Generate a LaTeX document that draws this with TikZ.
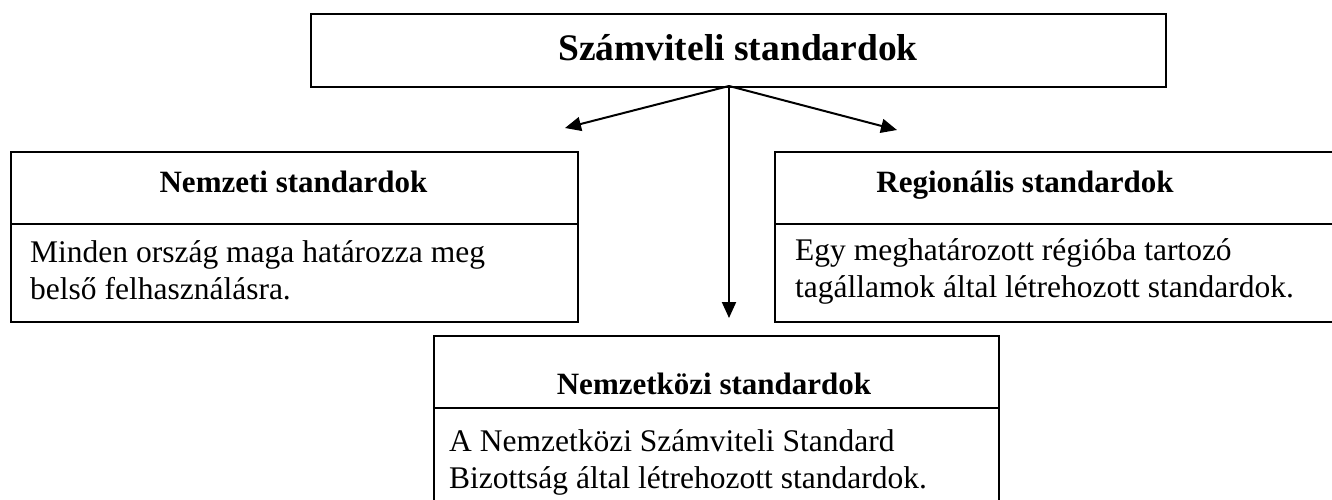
\documentclass[tikz,border=0pt]{standalone}
\usepackage{fontspec}
\setmainfont{Liberation Serif}
\usetikzlibrary{arrows.meta}
\tikzset{
  box/.style={draw=black, line width=2pt, rectangle, inner sep=0pt, anchor=north west},
  divider/.style={draw=black, line width=2pt},
  conn/.style={draw=black, line width=2pt, -{Triangle[length=16pt, width=14pt]}},
  titletext/.style={font=\bfseries\fontsize{37.5}{44}\selectfont, inner sep=0pt, anchor=base},
  headtext/.style={font=\bfseries\fontsize{31}{37}\selectfont, inner sep=0pt, anchor=base},
  bodytext/.style={font=\fontsize{31.5}{37}\selectfont, inner sep=0pt, anchor=base west, align=left},
}
\begin{document}
\begin{tikzpicture}[x=1pt, y=-1pt]
\useasboundingbox (0,0) rectangle (1332,499);
\clip (0,0) rectangle (1332,499);
% top box
\node[box, minimum width=855pt, minimum height=73pt] (top) at (310,13) {};
\node[titletext] (toptitle) at (738,60) {Számviteli standardok};
% left box
\node[box, minimum width=567pt, minimum height=170pt] (left) at (10,151) {};
\draw[divider] (10,224) -- (577,224);
\node[headtext] (lefthead) at (293.5,192) {Nemzeti standardok};
\node[bodytext] (leftbody) at (30,299) {Minden ország maga határozza meg\\belső felhasználásra.};
% right box
\node[box, minimum width=580pt, minimum height=170pt] (right) at (774,151) {};
\draw[divider] (774,224) -- (1360,224);
\node[headtext] (righthead) at (1025,192) {Regionális standardok};
\node[bodytext] (rightbody) at (795,297) {Egy meghatározott régióba tartozó\\tagállamok által létrehozott standardok.};
% bottom box
\node[box, minimum width=565pt, minimum height=200pt] (bottom) at (433,335) {};
\draw[divider] (433,408) -- (998,408);
\node[headtext] (bottomhead) at (714,394) {Nemzetközi standardok};
\node[bodytext] (bottombody) at (449,488) {A Nemzetközi Számviteli Standard\\Bizottság által létrehozott standardok.};
% connectors
\coordinate (src) at (729,86);
\coordinate (ltip) at (565,128);
\coordinate (rtip) at (897,130);
\coordinate (btip) at (729,318);
\draw[conn] (src) -- (ltip);
\draw[conn] (src) -- (rtip);
\draw[conn] (src) -- (btip);
\end{tikzpicture}
\end{document}
